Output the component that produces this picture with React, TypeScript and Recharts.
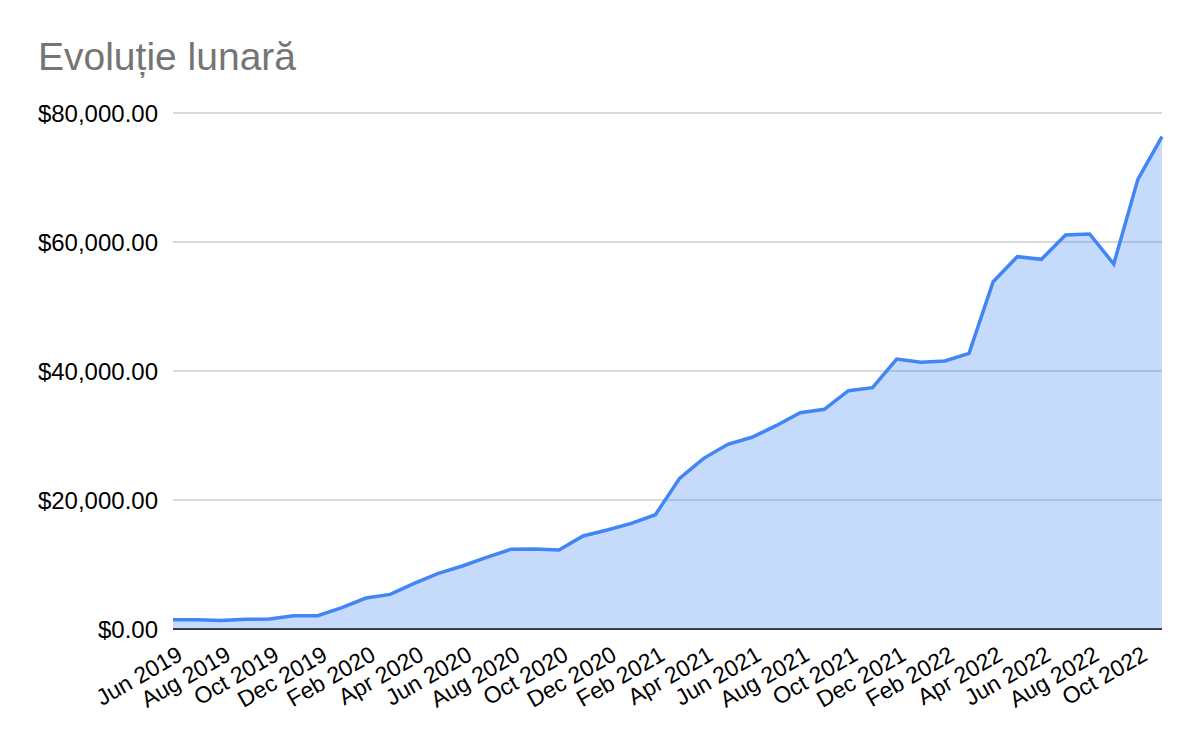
import React from 'react';
import { AreaChart, Area, XAxis, YAxis, CartesianGrid } from 'recharts';

const FONT = '"Liberation Sans", Arial, sans-serif';

const months = [
  'Jun 2019', 'Jul 2019', 'Aug 2019', 'Sep 2019', 'Oct 2019', 'Nov 2019', 'Dec 2019',
  'Jan 2020', 'Feb 2020', 'Mar 2020', 'Apr 2020', 'May 2020', 'Jun 2020', 'Jul 2020',
  'Aug 2020', 'Sep 2020', 'Oct 2020', 'Nov 2020', 'Dec 2020', 'Jan 2021', 'Feb 2021',
  'Mar 2021', 'Apr 2021', 'May 2021', 'Jun 2021', 'Jul 2021', 'Aug 2021', 'Sep 2021',
  'Oct 2021', 'Nov 2021', 'Dec 2021', 'Jan 2022', 'Feb 2022', 'Mar 2022', 'Apr 2022',
  'May 2022', 'Jun 2022', 'Jul 2022', 'Aug 2022', 'Sep 2022', 'Oct 2022', 'Nov 2022',
];

const totals = [
  1450, 1450, 1300, 1500, 1550, 2070, 2070,
  3300, 4800, 5370, 7080, 8630, 9770, 11100,
  12350, 12400, 12250, 14420, 15350, 16380, 17720,
  23360, 26460, 28640, 29720, 31520, 33540, 34060,
  36950, 37410, 41860, 41340, 41550, 42740, 53850,
  57720, 57310, 61080, 61240, 56590, 69720, 76330,
];

const yTicks = [0, 20000, 40000, 60000, 80000];

const data = months.map((m, i) => ({ month: m, total: totals[i] }));

function money(v: number) {
  return '$' + v.toLocaleString('en-US', { minimumFractionDigits: 2, maximumFractionDigits: 2 });
}

function MonthTick(props: any) {
  const { x, y, payload } = props;
  const tx = x + 11;
  const ty = y + 22;
  return (
    <text
      x={tx}
      y={ty}
      textAnchor="end"
      fontSize={23}
      fontFamily={FONT}
      fill="#000"
      transform={`rotate(-30, ${tx}, ${ty})`}
    >
      {payload.value}
    </text>
  );
}

export default function App() {
  return (
    <div style={{ position: 'absolute', left: 0, top: 0, width: 1200, height: 742, background: '#fff' }}>
      <svg width={1200} height={742} style={{ position: 'absolute', left: 0, top: 0, pointerEvents: 'none' }}>
        <text x={38} y={70} fontSize={39} fontFamily={FONT} fill="#757575">
          Evoluție lunară
        </text>
      </svg>
      <AreaChart
        width={1200}
        height={742}
        data={data}
        margin={{ top: 113, right: 38, bottom: 13, left: 0 }}
      >
        <CartesianGrid vertical={false} stroke="#cccccc" strokeWidth={1.5} />
        <YAxis
          width={173}
          domain={[0, 80000]}
          ticks={yTicks}
          tickFormatter={money}
          axisLine={false}
          tickLine={false}
          tickMargin={9}
          tick={{ fill: '#000', fontSize: 24, fontFamily: FONT }}
        />
        <XAxis
          dataKey="month"
          interval={1}
          height={100}
          tickLine={false}
          axisLine={false}
          tick={<MonthTick />}
        />
        <Area
          type="linear"
          dataKey="total"
          stroke="#4285F4"
          strokeWidth={3.5}
          fill="#4285F4"
          fillOpacity={0.3}
          isAnimationActive={false}
          dot={false}
          activeDot={false}
        />
        <CartesianGrid
          vertical={false}
          horizontalValues={[0]}
          stroke="#333333"
          strokeWidth={2}
        />
      </AreaChart>
    </div>
  );
}
